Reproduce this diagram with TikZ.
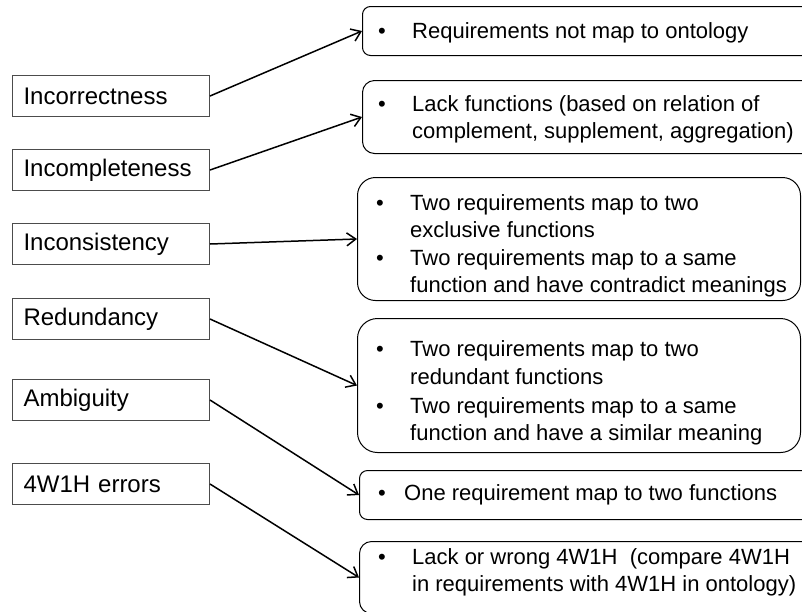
\documentclass[tikz,border=0pt]{standalone}
\usepackage{fontspec}
\setmainfont{Liberation Sans}
\usetikzlibrary{arrows.meta}
\begin{document}
\begin{tikzpicture}[x=1pt,y=-1pt,
  lbox/.style={draw=black!70, line width=1pt, minimum width=197pt, minimum height=41pt,
    text width=175pt, inner xsep=11pt, inner ysep=0pt, align=left, anchor=north west,
    font=\fontsize{24}{28}\selectfont},
  rbox/.style={draw=black, line width=1pt, anchor=north west, inner sep=0pt},
  bul/.style={font=\fontsize{22}{27}\selectfont, anchor=base west, inner sep=0pt},
  rtext/.style={font=\fontsize{22}{27}\selectfont, anchor=base west, inner sep=0pt},
  conn/.style={line width=1.5pt, -{Straight Barb[length=9pt,width=13pt]}}]
\useasboundingbox (0,0) rectangle (802,611);
\fill[white] (0,0) rectangle (802,611);
\clip (0,0) rectangle (802,611);

% left boxes
\node[lbox] (l1) at (12,75) {Incorrectness};
\node[lbox] (l2) at (12,149) {Incompleteness};
\node[lbox] (l3) at (12,223) {Inconsistency};
\node[lbox] (l4) at (12,298) {Redundancy};
\node[lbox] (l5) at (12,379) {Ambiguity};
\node[lbox] (l6) at (12,463) {4W1H errors};

% right boxes
\node[rbox, rounded corners=8pt, minimum width=500pt, minimum height=49pt] (r1) at (362,6) {};
\node[rbox, rounded corners=12pt, minimum width=500pt, minimum height=73pt] (r2) at (362,80) {};
\node[rbox, rounded corners=18pt, minimum width=443pt, minimum height=123pt] (r3) at (357,177) {};
\node[rbox, rounded corners=20pt, minimum width=443pt, minimum height=134pt] (r4) at (357,318) {};
\node[rbox, rounded corners=8pt, minimum width=500pt, minimum height=49pt] (r5) at (359,470) {};
\node[rbox, rounded corners=12pt, minimum width=500pt, minimum height=72pt] (r6) at (359,541) {};

% texts
\node[bul] (b1) at (378,38) {•};
\node[rtext] (t1) at (412,38) {Requirements not map to ontology};

\node[bul] (b2) at (378,111) {•};
\node[rtext] (t2a) at (412,111) {Lack functions (based on relation of};
\node[rtext] (t2b) at (412,138) {complement, supplement, aggregation)};

\node[bul] (b3a) at (376,210) {•};
\node[rtext] (t3a) at (410,210) {Two requirements map to two};
\node[rtext] (t3b) at (410,237) {exclusive functions};
\node[bul] (b3b) at (376,265) {•};
\node[rtext] (t3c) at (410,265) {Two requirements map to a same};
\node[rtext] (t3d) at (410,292) {function and have contradict meanings};

\node[bul] (b4a) at (376,356) {•};
\node[rtext] (t4a) at (410,356) {Two requirements map to two};
\node[rtext] (t4b) at (410,384) {redundant functions};
\node[bul] (b4b) at (376,413) {•};
\node[rtext] (t4c) at (410,413) {Two requirements map to a same};
\node[rtext] (t4d) at (410,440) {function and have a similar meaning};

\node[bul] (b5) at (378,500) {•};
\node[rtext] (t5) at (404,500) {One requirement map to two functions};

\node[bul] (b6) at (378,564) {•};
\node[rtext] (t6a) at (412,564) {Lack or wrong 4W1H\ \ (compare 4W1H};
\node[rtext] (t6b) at (412,591) {in requirements with 4W1H in ontology)};

% connectors
\draw[conn] (l1.east) -- (r1.west);
\draw[conn] (l2.east) -- (r2.west);
\draw[conn] (l3.east) -- (r3.west);
\draw[conn] (l4.east) -- (r4.west);
\draw[conn] (l5.east) -- (r5.west);
\draw[conn] (l6.east) -- (r6.west);
\end{tikzpicture}
\end{document}
